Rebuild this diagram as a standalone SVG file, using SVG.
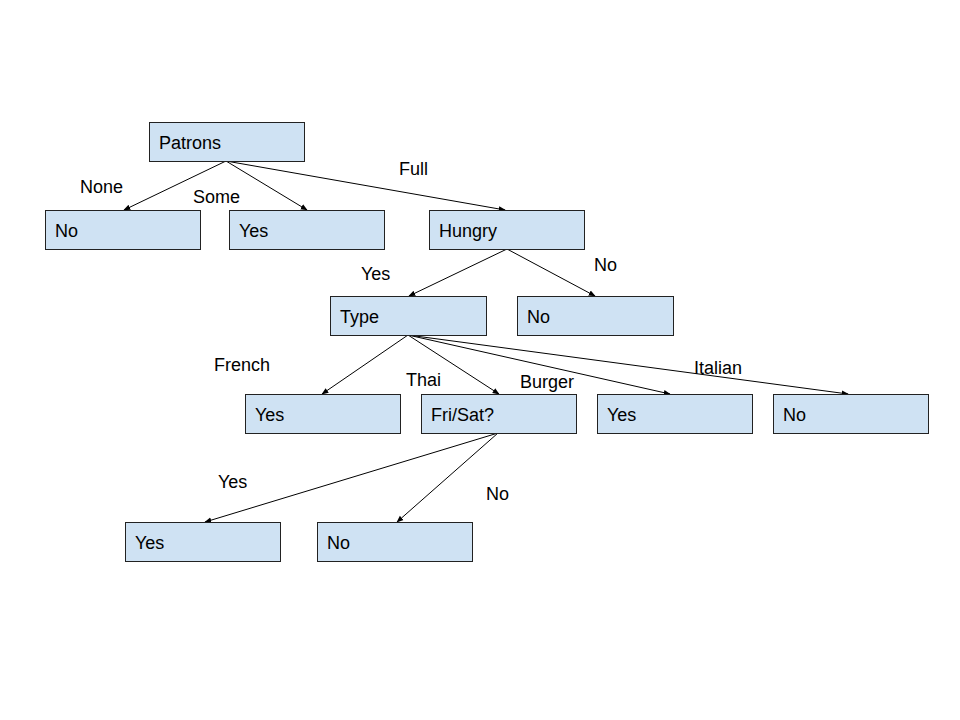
<svg xmlns="http://www.w3.org/2000/svg" width="960" height="720" viewBox="0 0 960 720">
  <style>
    .box { fill: #cfe2f3; stroke: #222; stroke-width: 1; }
    .t { font-family: "Liberation Sans", Arial, sans-serif; font-size: 18px; fill: #000; }
    .edge { stroke: #000; stroke-width: 1; fill: none; marker-end: url(#arrow); }
  </style>
  <defs>
    <marker id="arrow" viewBox="0 0 10 10" refX="9" refY="5" markerWidth="7" markerHeight="7" markerUnits="userSpaceOnUse" orient="auto">
      <path d="M0,1 L10,5 L0,9 z" fill="#000"/>
    </marker>
  </defs>
  <rect width="960" height="720" fill="#fff"/>

  <g id="connectors">
    <line class="edge" x1="226" y1="161" x2="124" y2="210"/>
    <line class="edge" x1="226" y1="161" x2="307" y2="210"/>
    <line class="edge" x1="226" y1="161" x2="505" y2="210"/>
    <line class="edge" x1="507" y1="249" x2="409" y2="296"/>
    <line class="edge" x1="507" y1="249" x2="595" y2="296"/>
    <line class="edge" x1="408" y1="335" x2="322" y2="394"/>
    <line class="edge" x1="408" y1="335" x2="499" y2="394"/>
    <line class="edge" x1="408" y1="335" x2="670" y2="394"/>
    <line class="edge" x1="408" y1="335" x2="848" y2="394"/>
    <line class="edge" x1="498" y1="433" x2="205" y2="522"/>
    <line class="edge" x1="498" y1="433" x2="397" y2="522"/>
  </g>

  <g id="edge-labels">
    <text class="t" x="80" y="193">None</text>
    <text class="t" x="193" y="203">Some</text>
    <text class="t" x="399" y="175">Full</text>
    <text class="t" x="361" y="280">Yes</text>
    <text class="t" x="594" y="271">No</text>
    <text class="t" x="214" y="371">French</text>
    <text class="t" x="406" y="386">Thai</text>
    <text class="t" x="520" y="388">Burger</text>
    <text class="t" x="694" y="374">Italian</text>
    <text class="t" x="218" y="488">Yes</text>
    <text class="t" x="486" y="500">No</text>
  </g>

  <g id="patrons"><rect class="box" x="149.5" y="122.5" width="155" height="39"/><text class="t" x="159" y="149">Patrons</text></g>
  <g id="none-no"><rect class="box" x="45.5" y="210.5" width="155" height="39"/><text class="t" x="55" y="237">No</text></g>
  <g id="some-yes"><rect class="box" x="229.5" y="210.5" width="155" height="39"/><text class="t" x="239" y="237">Yes</text></g>
  <g id="hungry"><rect class="box" x="429.5" y="210.5" width="155" height="39"/><text class="t" x="439" y="237">Hungry</text></g>
  <g id="type"><rect class="box" x="330.5" y="296.5" width="156" height="39"/><text class="t" x="340" y="323">Type</text></g>
  <g id="hungry-no"><rect class="box" x="517.5" y="296.5" width="156" height="39"/><text class="t" x="527" y="323">No</text></g>
  <g id="french-yes"><rect class="box" x="245.5" y="394.5" width="155" height="39"/><text class="t" x="255" y="421">Yes</text></g>
  <g id="frisat"><rect class="box" x="421.5" y="394.5" width="155" height="39"/><text class="t" x="431" y="421">Fri/Sat?</text></g>
  <g id="burger-yes"><rect class="box" x="597.5" y="394.5" width="155" height="39"/><text class="t" x="607" y="421">Yes</text></g>
  <g id="italian-no"><rect class="box" x="773.5" y="394.5" width="155" height="39"/><text class="t" x="783" y="421">No</text></g>
  <g id="frisat-yes"><rect class="box" x="125.5" y="522.5" width="155" height="39"/><text class="t" x="135" y="549">Yes</text></g>
  <g id="frisat-no"><rect class="box" x="317.5" y="522.5" width="155" height="39"/><text class="t" x="327" y="549">No</text></g>
</svg>
